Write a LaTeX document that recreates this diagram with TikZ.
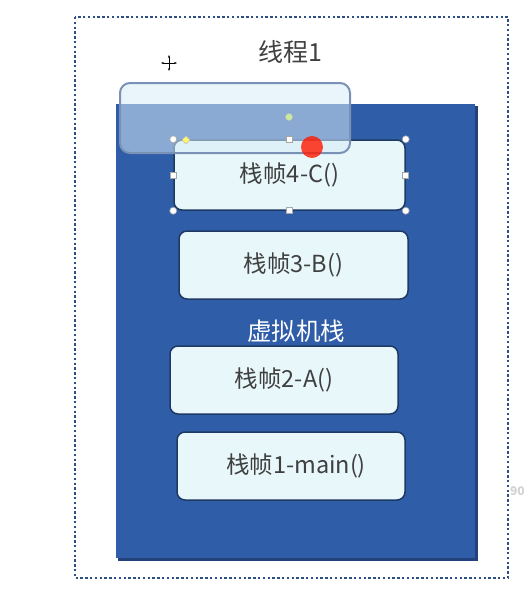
\documentclass[tikz,border=0pt]{standalone}
\usepackage{fontspec}
\setmainfont{Noto Sans CJK SC}
\usetikzlibrary{arrows.meta}
\definecolor{stackblue}{RGB}{47,93,168}
\definecolor{stackrim}{RGB}{33,66,122}
\definecolor{framefill}{RGB}{232,247,250}
\definecolor{framerim}{RGB}{30,58,100}
\definecolor{textgray}{RGB}{64,64,64}
\definecolor{dotblue}{RGB}{45,78,135}
\definecolor{ghostfill}{RGB}{215,235,248}
\definecolor{ghostrim}{RGB}{120,145,180}
\tikzset{
  framebox/.style={draw=framerim, line width=1.5pt, fill=framefill, rounded corners=8pt,
    minimum width=228pt, minimum height=68pt, inner sep=0pt,
    font=\fontsize{23.5}{28}\selectfont, text=textgray},
  handle/.style={draw=gray!70, fill=white, line width=.6pt},
}
\begin{document}
\begin{tikzpicture}[x=1pt,y=-1pt]
    \useasboundingbox (0,0) rectangle (526,595);
    % thread outline
    \draw[dotblue,line width=2.6pt,dash pattern=on 2.4pt off 2.4pt] (75,17) rectangle (508,578);
    \node[font=\fontsize{25}{30}\selectfont,text=textgray] (thread) at (290,52) {线程1};
    % vm stack
    \fill[stackrim] (118,106) rectangle (478,561);
    \fill[stackblue] (116,104) rectangle (475,558);
    \node[font=\fontsize{24.5}{29}\selectfont,text=white] (vmstack) at (296,331) {虚拟机栈};
    % frames
    \node[framebox,minimum width=231pt,minimum height=70pt] (f4) at (289.5,175) {栈帧4-C()};
    \node[framebox,minimum width=229pt] (f3) at (293.5,265) {栈帧3-B()};
    \node[framebox] (f2) at (284,380) {栈帧2-A()};
    \node[framebox] (f1) at (291,466) {\hspace{10pt}栈帧1-main()};
    % dragged copy
    \draw[ghostrim,line width=2pt,fill=ghostfill,fill opacity=.55,rounded corners=10pt] (120,83) rectangle (350,153);
    % selection handles
    \foreach \c in {north west,north east,south west,south east}
    \draw[handle] (f4.\c) circle (3.5pt);
    \foreach \c in {north,south,west,east}
    \draw[handle] ([xshift=-3pt,yshift=-3pt]f4.\c) rectangle +(6pt,6pt);
    \fill[yellow!50!green!40,draw=gray!50] (289,117) circle (3.5pt);
    \fill[yellow!60,draw=gray!50] (186,136) -- (190,140) -- (186,144) -- (182,140) -- cycle;
    \fill[red!80!orange,opacity=.8] (312,147) circle (11pt);
    % cursor
    \draw[-{Stealth[length=3pt]},line width=.8pt] (169,63) -- (169,55);
    \draw[-{Stealth[length=3pt]},line width=.8pt] (169,63) -- (169,71);
    \draw[-{Stealth[length=3pt]},line width=.8pt] (169,63) -- (161,63);
    \draw[-{Stealth[length=3pt]},line width=.8pt] (169,63) -- (177,63);
    \node[font=\fontsize{12}{14}\selectfont\bfseries,text=gray!35,anchor=east,inner sep=1pt] (edge) at (526,491) {90};
\end{tikzpicture}
\end{document}
